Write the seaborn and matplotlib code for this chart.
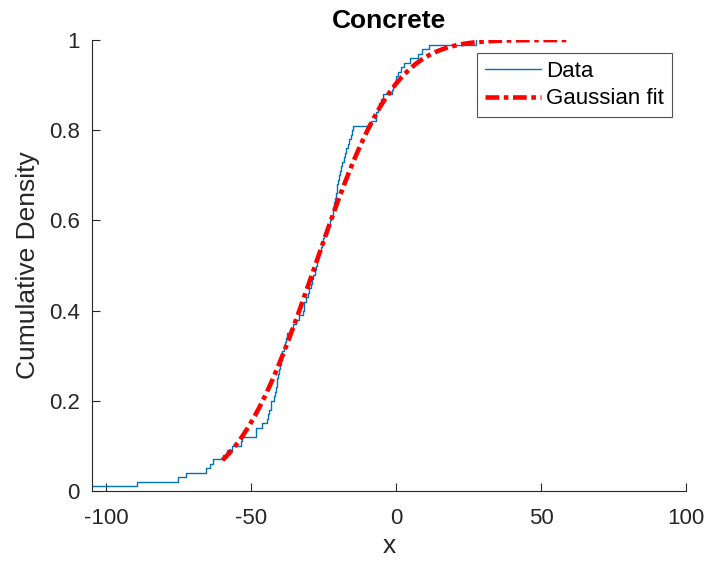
import math
import numpy as np
import pandas as pd
import matplotlib
matplotlib.use("Agg")
import matplotlib.pyplot as plt
import seaborn as sns

# ---- data ----
data_values = [
    -110.0, -89.5, -75.3, -72.6, -65.5, -64.4, -63.2, -59.8, -58.5, -56.6,
    -53.5, -53.4, -48.5, -48.4, -46.2, -44.7, -44.2, -43.8, -43.3, -43.1,
    -42.2, -41.9, -41.6, -41.3, -41.0, -40.7, -40.4, -40.1, -39.8, -39.5,
    -39.3, -38.9, -38.5, -38.0, -37.6, -36.6, -35.6, -34.6, -33.6, -32.3,
    -31.9, -31.8, -31.2, -30.6, -30.0, -29.5, -29.1, -28.6, -28.2, -27.7,
    -27.3, -26.9, -26.5, -26.1, -25.7, -25.3, -24.9, -24.3, -23.7, -23.0,
    -22.4, -21.8, -21.7, -21.5, -21.2, -20.9, -20.6, -20.3, -20.0, -19.7,
    -19.3, -19.0, -18.7, -18.2, -17.8, -17.3, -16.8, -16.3, -15.7, -15.2,
    -14.8, -8.8, -7.0, -6.9, -6.4, -5.8, -5.2, -4.7, -1.3, -1.0,
    -0.5, 0.0, 0.5, 1.5, 2.8, 4.7, 7.4, 8.9, 11.4, 27.6,
]
fit_mu = -28.0
fit_sigma = 21.5
fit_x_range = [-60, 60]

x_ticks = [-100, -50, 0, 50, 100]
y_ticks = [0, 0.2, 0.4, 0.6, 0.8, 1.0]
y_tick_labels = ["0", "0.2", "0.4", "0.6", "0.8", "1"]
title_text = "Concrete"
legend_labels = ["Data", "Gaussian fit"]

# ---- build frames ----
df = pd.DataFrame({"x": data_values})
fx = np.linspace(fit_x_range[0], fit_x_range[1], 300)
fy = [0.5 * (1 + math.erf((v - fit_mu) / (fit_sigma * math.sqrt(2)))) for v in fx]
fit_df = pd.DataFrame({"x": fx, "F": fy})

sns.set_theme(style="white")
plt.rcParams["font.family"] = ["Liberation Sans", "DejaVu Sans"]

W, H = 710, 573
fig = plt.figure(figsize=(W / 100, H / 100), dpi=100)
ax = fig.add_axes([92 / W, (H - 491) / H, (686 - 92) / W, (491 - 40) / H])

axcol = "#262626"
sns.ecdfplot(data=df, x="x", ax=ax, color="#0072BD", linewidth=1.0, label=legend_labels[0])
sns.lineplot(data=fit_df, x="x", y="F", ax=ax, color="#FF0000", linewidth=3.3,
             linestyle=(0, (3.0, 1.0, 1.0, 1.0)), label=legend_labels[1])

ax.set_xlim(-105, 100)
ax.set_ylim(0, 1)
ax.set_xticks(x_ticks)
ax.set_xticklabels([str(t) for t in x_ticks])
ax.set_yticks(y_ticks)
ax.set_yticklabels(y_tick_labels)
ax.tick_params(direction="in", length=6, width=0.8, colors=axcol, labelsize=16,
               top=False, right=False, bottom=True, left=True)
ax.tick_params(axis="x", pad=12)
ax.tick_params(axis="y", pad=9)
for side in ["top", "right"]:
    ax.spines[side].set_visible(False)
for side in ["left", "bottom"]:
    ax.spines[side].set_color(axcol)
    ax.spines[side].set_linewidth(0.8)

ax.set_xlabel("x", fontsize=19, color=axcol, labelpad=4)
ax.set_ylabel("Cumulative Density", fontsize=19, color=axcol, labelpad=6)
ax.set_title(title_text, fontsize=19, fontweight="bold", color="black", pad=9)

leg = ax.legend(loc="upper right", bbox_to_anchor=(1 - 14 / 594, 1 - 13 / 451),
                fontsize=16, frameon=True, fancybox=False, handlelength=2.5,
                borderpad=0.35, labelspacing=0.3, handletextpad=0.25, borderaxespad=0)
leg.get_frame().set_edgecolor(axcol)
leg.get_frame().set_linewidth(0.8)
for t in leg.get_texts():
    t.set_color("black")

fig.savefig("out.png", dpi=100, facecolor="white")
